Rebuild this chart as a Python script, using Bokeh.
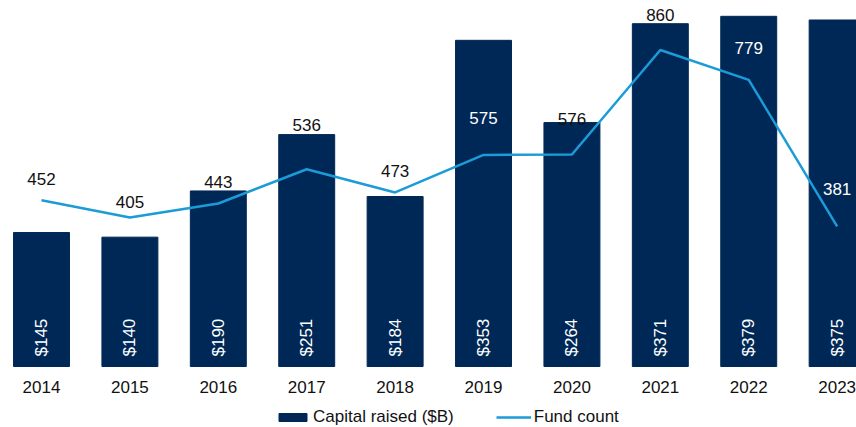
import math
from bokeh.plotting import figure
from bokeh.models import (ColumnDataSource, Range1d, LabelSet, Legend, LegendItem,
                          FixedTicker)
from bokeh.core.properties import value
from bokeh.embed import file_html
from bokeh.resources import INLINE

years = ["2014", "2015", "2016", "2017", "2018", "2019", "2020", "2021", "2022", "2023"]
capital = [145, 140, 190, 251, 184, 353, 264, 371, 379, 375]
funds = [452, 405, 443, 536, 473, 575, 576, 860, 779, 381]

# styling: pixel lift of each fund-count label above its point, and its colour
label_lift = [21, 15, 21, 44, 21, 37, 36, 35, 32, 37]
label_color = ["#111111", "#111111", "#111111", "#111111", "#111111",
               "#ffffff", "#111111", "#111111", "#ffffff", "#ffffff"]

NAVY = "#002856"
BLUE = "#1b9bd7"
FONT = "Arial"

xs = list(range(len(years)))
src = ColumnDataSource(dict(
    x=xs, year=years, capital=capital, funds=funds,
    cap_txt=["$%d" % v for v in capital],
    fund_txt=[str(v) for v in funds],
    lift=label_lift, lcol=label_color,
    zero=[0] * len(years),
))

p = figure(frame_width=856, frame_height=427, output_backend="svg",
           toolbar_location=None, y_axis_location=None,
           x_range=Range1d(-0.4638, 9.219), y_range=Range1d(-66.0, 396.1),
           min_border_left=0, min_border_right=0, min_border_top=0,
           min_border_bottom=0)
p.extra_y_ranges = {"count": Range1d(-165.8, 994.6)}
p.outline_line_color = None
p.xgrid.visible = False
p.ygrid.visible = False
p.background_fill_color = "white"
p.border_fill_color = "white"

bars = p.vbar(x="x", bottom=0, top="capital", width=0.633, source=src,
              fill_color=NAVY, line_color=NAVY)
line = p.line(x="x", y="funds", source=src, y_range_name="count",
              line_color=BLUE, line_width=2.5)

cap_labels = LabelSet(x="x", y="zero", text="cap_txt", source=src,
                      angle=math.pi / 2, text_align="left", text_baseline="middle",
                      y_offset=10, text_color="white", text_font=value(FONT),
                      text_font_size="17px")
p.add_layout(cap_labels)

fund_labels = LabelSet(x="x", y="funds", text="fund_txt", source=src,
                       y_range_name="count", y_offset="lift",
                       text_align="center", text_baseline="middle",
                       text_color="lcol", text_font=value(FONT), text_font_size="17px")
p.add_layout(fund_labels)

ax = p.xaxis[0]
ax.fixed_location = 0
ax.ticker = FixedTicker(ticks=xs)
ax.major_label_overrides = {i: y for i, y in zip(xs, years)}
ax.axis_line_color = None
ax.major_tick_line_color = None
ax.minor_tick_line_color = None
ax.major_tick_out = 0
ax.major_tick_in = 0
ax.major_label_standoff = 14
ax.major_label_text_font = FONT
ax.major_label_text_font_size = "17px"
ax.major_label_text_color = "#111111"

legend = Legend(items=[LegendItem(label="Capital raised ($B)", renderers=[bars]),
                       LegendItem(label="Fund count", renderers=[line])],
                orientation="horizontal", location=(275, 0),
                glyph_width=35, glyph_height=10, label_standoff=3, spacing=42,
                padding=0, margin=0, border_line_color=None,
                background_fill_alpha=0,
                label_text_font=FONT, label_text_font_size="17px",
                label_text_color="#111111", label_height=18)
p.add_layout(legend, "center")

open("out.html", "w").write(file_html(p, INLINE))
